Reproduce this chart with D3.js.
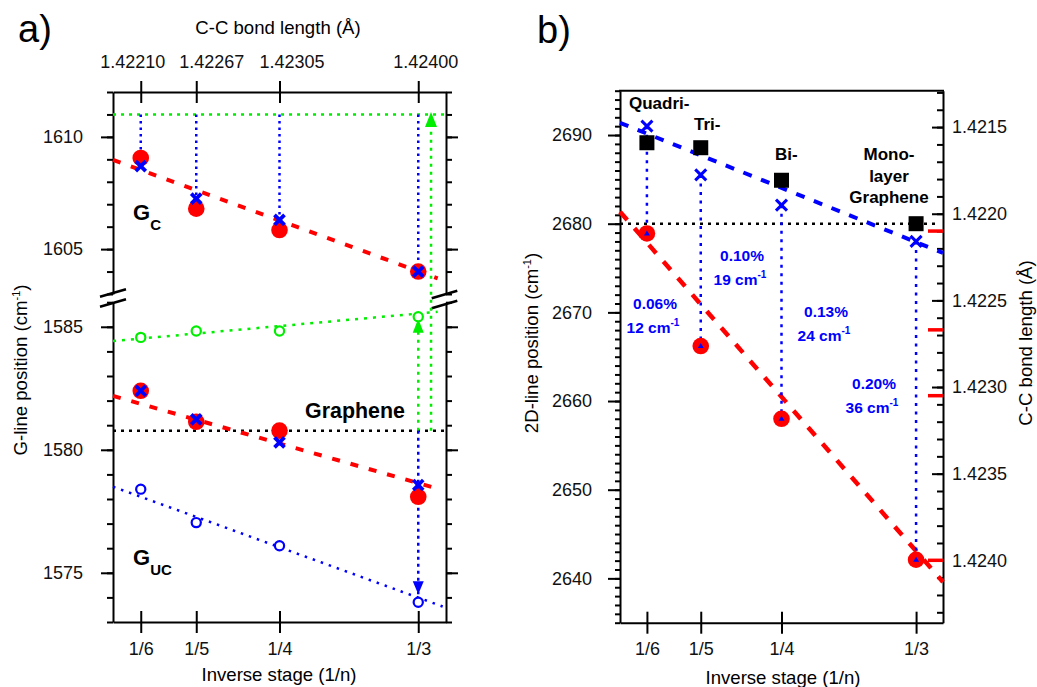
<!DOCTYPE html>
<html>
<head>
<meta charset="utf-8">
<script src="https://cdn.jsdelivr.net/npm/d3@7"></script>
<style>
  body { margin: 0; background: #fff; }
  svg { font-family: "Liberation Sans", Arial, sans-serif; }
</style>
</head>
<body>
<svg id="chart" width="1037" height="687"></svg>
<script>
// ---- shared ----
const stageX = [1/6, 1/5, 1/4, 1/3];
const stageLabels = ["1/6", "1/5", "1/4", "1/3"];
const bondTickLabels = ["1.42210", "1.42267", "1.42305", "1.42400"];
const bondLengths = [1.42210, 1.42267, 1.42305, 1.42400];

// ---- a) upper part (G_C) ----
const gcCircle = [1609.06, 1606.8, 1605.85, 1604.0];
const gcCross = [1608.7, 1607.25, 1606.3, 1604.0];
const gcFitX = [0.15, 0.345];
const gcFitY = [1608.98, 1603.7];
const gcRef = 1611;
const upperTicks = [1605, 1610];

// ---- a) lower part ----
const gGreen = [1584.57, 1584.83, 1584.83, 1585.41];
const gGreenFitX = [0.15, 0.345];
const gGreenFitY = [1584.42, 1585.61];
const gCircle = [1582.4, 1581.14, 1580.78, 1578.09];
const gCross = [1582.4, 1581.24, 1580.3, 1578.57];
const gFitX = [0.15, 0.346];
const gFitY = [1582.19, 1578.4];
const gucOpen = [1578.4, 1577.04, 1576.1, 1573.8];
const gucFitX = [0.15, 0.348];
const gucFitY = [1578.5, 1573.63];
const grapheneG = 1580.77;
const lowerTicks = [1575, 1580, 1585];

// ---- b) 2D line ----
const squares2D = [2689.13, 2688.57, 2684.9, 2680.0];
const cross2D = [2691.0, 2685.5, 2682.09, 2678.0];
const circle2D = [2678.9, 2666.2, 2658.0, 2642.1];
const blueFitX = [0.15, 0.35];
const blueFitY = [2691.38, 2676.7];
const redFitX = [0.15, 0.35];
const redFitY = [2681.35, 2639.6];
const graphene2D = 2680;
const ticks2D = [2640, 2650, 2660, 2670, 2680, 2690];
const bondTicks = [1.4215, 1.4220, 1.4225, 1.4230, 1.4235, 1.4240];
const strainPct = ["0.06%", "0.10%", "0.13%", "0.20%"];
const strainShift = ["12", "19", "24", "36"];
const layerNames = ["Quadri-", "Tri-", "Bi-"];

const RED = "#ff0000", BLUE = "#0000ff", GREEN = "#00ee00";
const TITLE = 18.6;

const svg = d3.select("#chart");

function seg(g, pts, color, w, dash) {
  g.append("path")
    .attr("d", d3.line()(pts))
    .attr("fill", "none")
    .attr("stroke", color)
    .attr("stroke-width", w)
    .attr("stroke-dasharray", dash || null);
}
function cross(g, x, y, r, w) {
  seg(g, [[x - r, y - r], [x + r, y + r]], BLUE, w);
  seg(g, [[x - r, y + r], [x + r, y - r]], BLUE, w);
}
// triangle with its tip at (x, y)
function tri(g, x, y, w, h, dir, color) {
  const b = y + dir * h;
  g.append("path")
    .attr("d", `M${x},${y}L${x - w / 2},${b}L${x + w / 2},${b}Z`)
    .attr("fill", color);
}
function styleAxis(g, size) {
  g.attr("font-size", size).attr("font-family", null);
  g.selectAll("path, line").attr("stroke-width", 2);
  g.selectAll("text").attr("fill", "#111");
}
function minorAxis(g, axis) {
  g.call(axis.tickFormat("").tickSizeOuter(0));
  g.select(".domain").remove();
  g.selectAll("line").attr("stroke-width", 2);
}

// ================= panel a =================
const xA = d3.scaleLinear([0.15, 0.35], [113, 446]);
const yUp = d3.scaleLinear([1603, 1612], [294, 92]);
const yLo = d3.scaleLinear([1573, 1586], [622, 302.2]);
const a = svg.append("g");

// axes
const topShift = [-8.5, 15, 12, 7]; // labels sit a bit off their ticks in the original
const aTop = a.append("g").attr("transform", `translate(0,${yUp.range()[1]})`)
  .call(d3.axisTop(xA).tickValues(stageX)
    .tickFormat(d => bondTickLabels[stageX.indexOf(d)])
    .tickSize(11).tickPadding(13).tickSizeOuter(0));
aTop.selectAll(".tick line").attr("y1", 11);
aTop.selectAll(".tick text").attr("dx", (d, i) => topShift[i]);
styleAxis(aTop, 18);

const aBot = a.append("g").attr("transform", `translate(0,${yLo.range()[0]})`)
  .call(d3.axisBottom(xA).tickValues(stageX)
    .tickFormat(d => stageLabels[stageX.indexOf(d)])
    .tickSize(11).tickPadding(9).tickSizeOuter(0));
aBot.selectAll(".tick line").attr("y1", -11);
styleAxis(aBot, 18);

[[yUp, upperTicks, d3.range(1603, 1613)], [yLo, lowerTicks, d3.range(1573, 1587)]].forEach(([y, maj, minr]) => {
  const l = a.append("g").attr("transform", `translate(${xA.range()[0]},0)`)
    .call(d3.axisLeft(y).tickValues(maj).tickFormat(d3.format("d")).tickSize(12).tickPadding(18).tickSizeOuter(0));
  styleAxis(l, 18);
  minorAxis(a.append("g").attr("transform", `translate(${xA.range()[0]},0)`),
    d3.axisLeft(y).tickValues(minr).tickSize(6));
  const r = a.append("g").attr("transform", `translate(${xA.range()[1]},0)`)
    .call(d3.axisRight(y).tickValues(maj).tickFormat("").tickSize(12).tickSizeOuter(0));
  styleAxis(r, 18);
  minorAxis(a.append("g").attr("transform", `translate(${xA.range()[1]},0)`),
    d3.axisRight(y).tickValues(minr).tickSize(6));
});

// axis break marks
[[100, 126], [431.7, 457.3]].forEach(([x0, x1]) => {
  const y0 = x0 < 200 ? 296.7 : 298.3;
  seg(a, [[x0, y0], [x1, y0 - 7.5]], "#000", 2.5);
  seg(a, [[x0, y0 + 10], [x1, y0 + 2.5]], "#000", 2.5);
});

// reference lines
seg(a, [[xA(0.15), yUp(gcRef)], [xA(0.35), yUp(gcRef)]], GREEN, 2.5, "3,5");
seg(a, [[xA(0.15), yLo(grapheneG)], [xA(0.35), yLo(grapheneG)]], "#000", 2.5, "3,5");

// fits
seg(a, gcFitX.map((x, i) => [xA(x), yUp(gcFitY[i])]), RED, 4, "8,11");
seg(a, gFitX.map((x, i) => [xA(x), yLo(gFitY[i])]), RED, 4, "8,11");
seg(a, gGreenFitX.map((x, i) => [xA(x), yLo(gGreenFitY[i])]), GREEN, 2.5, "3,6");
seg(a, gucFitX.map((x, i) => [xA(x), yLo(gucFitY[i])]), BLUE, 2.5, "2.5,6");

// vertical drop lines from the reference
stageX.forEach((s, i) => {
  seg(a, [[xA(s), yUp(gcRef)], [xA(s), yUp(gcCross[i])]], BLUE, 2.5, "2.5,4");
});
const s3 = stageX[3];
seg(a, [[xA(s3), yLo(grapheneG)], [xA(s3), yLo(gGreen[3]) + 8]], GREEN, 2.5, "3,5");
tri(a, xA(s3), yLo(gGreen[3]) + 2, 11, 14, 1, GREEN);
seg(a, [[xA(s3), yLo(grapheneG)], [xA(s3), yLo(gucOpen[3]) - 8]], BLUE, 2.5, "3,4");
tri(a, xA(s3), yLo(gucOpen[3]) - 8, 11, 13, -1, BLUE);
const arrowX = 0.341;
seg(a, [[xA(arrowX), yLo(grapheneG)], [xA(arrowX), yUp(gcRef) + 6]], GREEN, 2.5, "3,5");
tri(a, xA(arrowX), yUp(gcRef) - 2.5, 12, 15, 1, GREEN);

// markers
stageX.forEach((s, i) => {
  a.append("circle").attr("cx", xA(s)).attr("cy", yUp(gcCircle[i])).attr("r", 8.3).attr("fill", RED);
  a.append("circle").attr("cx", xA(s)).attr("cy", yLo(gCircle[i])).attr("r", 8.3).attr("fill", RED);
  a.append("circle").attr("cx", xA(s)).attr("cy", yLo(gGreen[i])).attr("r", 4.6)
    .attr("fill", "#fff").attr("stroke", GREEN).attr("stroke-width", 2.2);
  a.append("circle").attr("cx", xA(s)).attr("cy", yLo(gucOpen[i])).attr("r", 4.6)
    .attr("fill", "#fff").attr("stroke", BLUE).attr("stroke-width", 2.2);
});
stageX.forEach((s, i) => {
  cross(a, xA(s), yUp(gcCross[i]), 5, 3.8);
  cross(a, xA(s), yLo(gCross[i]), 5, 3.8);
});

// labels
a.append("text").attr("x", 18).attr("y", 42).attr("font-size", 38).text("a)");
a.append("text").attr("x", 278).attr("y", 34).attr("font-size", TITLE).attr("text-anchor", "middle").text("C-C bond length (Å)");
a.append("text").attr("x", 279).attr("y", 681).attr("font-size", TITLE).attr("text-anchor", "middle").text("Inverse stage (1/n)");
const aY = a.append("text").attr("transform", "translate(27,370) rotate(-90)")
  .attr("font-size", TITLE).attr("text-anchor", "middle");
aY.append("tspan").text("G-line position (cm");
aY.append("tspan").attr("font-size", 11).attr("dy", -7).text("-1");
aY.append("tspan").attr("dy", 7).text(")");
a.append("text").attr("x", 355).attr("y", 418).attr("font-size", 21.4).attr("font-weight", "bold")
  .attr("text-anchor", "middle").text("Graphene");
const gc = a.append("text").attr("x", 133).attr("y", 220).attr("font-size", 22).attr("font-weight", "bold");
gc.append("tspan").text("G");
gc.append("tspan").attr("font-size", 15).attr("dy", 10).text("C");
const guc = a.append("text").attr("x", 133).attr("y", 565).attr("font-size", 22).attr("font-weight", "bold");
guc.append("tspan").text("G");
guc.append("tspan").attr("font-size", 15).attr("dy", 10).text("UC");

// ================= panel b =================
const xB = d3.scaleLinear([0.15, 0.35], [620, 943]);
const yB = d3.scaleLinear([2635, 2695], [622.7, 90.7]);
const yBR = d3.scaleLinear([1.42129, 1.42436], [90.7, 622.7]);
const b = svg.append("g");

seg(b, [[xB.range()[0] - 1, yB.range()[1]], [xB.range()[1] + 1, yB.range()[1]]], "#000", 2);
const bBot = b.append("g").attr("transform", `translate(0,${yB.range()[0]})`)
  .call(d3.axisBottom(xB).tickValues(stageX)
    .tickFormat(d => stageLabels[stageX.indexOf(d)])
    .tickSize(11).tickPadding(9).tickSizeOuter(0));
bBot.selectAll(".tick line").attr("y1", -11);
styleAxis(bBot, 18);

const bL = b.append("g").attr("transform", `translate(${xB.range()[0]},0)`)
  .call(d3.axisLeft(yB).tickValues(ticks2D).tickFormat(d3.format("d")).tickSize(12).tickPadding(16).tickSizeOuter(0));
styleAxis(bL, 18);
minorAxis(b.append("g").attr("transform", `translate(${xB.range()[0]},0)`),
  d3.axisLeft(yB).tickValues(d3.range(2635, 2696)).tickSize(5));

const bR = b.append("g").attr("transform", `translate(${xB.range()[1]},0)`)
  .call(d3.axisRight(yBR).tickValues(bondTicks).tickFormat(d3.format(".4f")).tickSize(-11).tickPadding(9).tickSizeOuter(0));
styleAxis(bR, 18);
minorAxis(b.append("g").attr("transform", `translate(${xB.range()[1]},0)`),
  d3.axisRight(yBR).tickValues(d3.range(14213, 14244).map(v => v / 10000)).tickSize(-6));

// red marks of the bond lengths on the right axis
bondLengths.forEach(v => {
  seg(b, [[xB.range()[1] - 15, yBR(v)], [xB.range()[1], yBR(v)]], RED, 3.5);
});

// graphene reference and fits
seg(b, [[xB(0.15), yB(graphene2D)], [xB(0.35) - 8, yB(graphene2D)]], "#000", 2.5, "3,5");
seg(b, redFitX.map((x, i) => [xB(x), yB(redFitY[i])]), RED, 4.5, "11,11");
seg(b, blueFitX.map((x, i) => [xB(x), yB(blueFitY[i])]), BLUE, 4, "9,10");

// vertical drop lines
stageX.forEach((s, i) => {
  seg(b, [[xB(s), yB(cross2D[i])], [xB(s), yB(circle2D[i])]], BLUE, 2.5, "3,5.5");
});

// markers
stageX.forEach((s, i) => {
  b.append("circle").attr("cx", xB(s)).attr("cy", yB(circle2D[i])).attr("r", 8.3).attr("fill", RED);
  tri(b, xB(s), yB(circle2D[i]) - 3, 6, 5, 1, BLUE);
  b.append("rect").attr("x", xB(s) - 7.5).attr("y", yB(squares2D[i]) - 7.5)
    .attr("width", 15).attr("height", 15).attr("fill", "#000");
  cross(b, xB(s), yB(cross2D[i]), 5.5, 3);
});

// labels
b.append("text").attr("x", 537).attr("y", 43).attr("font-size", 38).text("b)");
b.append("text").attr("x", 783).attr("y", 684).attr("font-size", TITLE).attr("text-anchor", "middle").text("Inverse stage (1/n)");
const bY = b.append("text").attr("transform", "translate(538,343) rotate(-90)")
  .attr("font-size", TITLE).attr("text-anchor", "middle");
bY.append("tspan").text("2D-line position (cm");
bY.append("tspan").attr("font-size", 11).attr("dy", -7).text("-1");
bY.append("tspan").attr("dy", 7).text(")");
b.append("text").attr("transform", "translate(1032,343) rotate(-90)")
  .attr("font-size", TITLE).attr("text-anchor", "middle").text("C-C bond length (Å)");

const layerPos = [[629, 109], [694, 130], [775, 160]];
layerNames.forEach((t, i) => {
  b.append("text").attr("x", layerPos[i][0]).attr("y", layerPos[i][1])
    .attr("font-size", 17).attr("font-weight", "bold").text(t);
});
["Mono-", "layer", "Graphene"].forEach((t, i) => {
  b.append("text").attr("x", 889).attr("y", 160 + i * 21.7).attr("text-anchor", "middle")
    .attr("font-size", 17).attr("font-weight", "bold").text(t);
});

const notePos = [[655, 309], [742, 261], [826, 317], [874, 389]];
strainPct.forEach((t, i) => {
  const [x, y] = notePos[i];
  b.append("text").attr("x", x).attr("y", y).attr("text-anchor", "middle")
    .attr("font-size", 15.5).attr("font-weight", "bold").attr("fill", BLUE).text(t);
  const s = b.append("text").attr("x", x - 2).attr("y", y + 23.5).attr("text-anchor", "middle")
    .attr("font-size", 15.5).attr("font-weight", "bold").attr("fill", BLUE);
  s.append("tspan").text(strainShift[i] + " cm");
  s.append("tspan").attr("font-size", 10).attr("dy", -7).text("-1");
});
</script>
</body>
</html>
